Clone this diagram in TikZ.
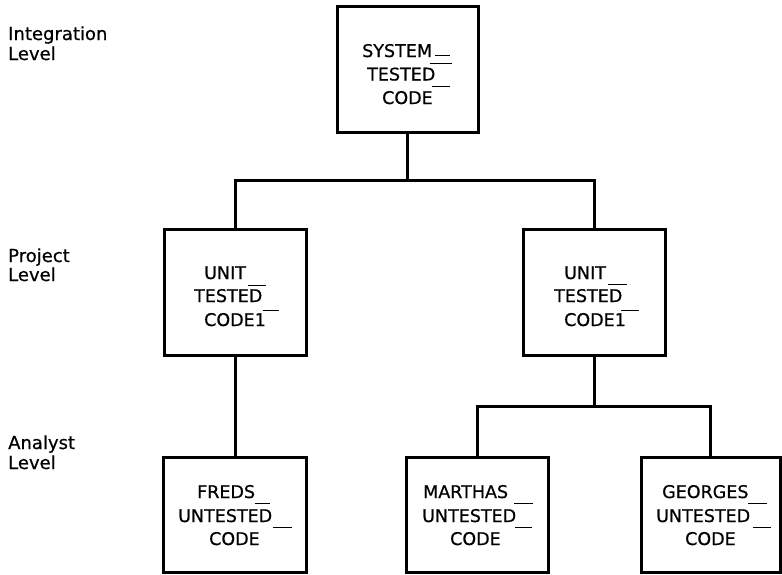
\documentclass[tikz,border=0pt]{standalone}
\usepackage{fontspec}
\setmainfont{DejaVu Sans}[FakeBold=0.6]
\newfontfamily\boxfont{DejaVu Sans}[FakeBold=0.6]
\begin{document}
\begin{tikzpicture}[x=1pt,y=-1pt,
  box/.style={draw, line width=3pt, rectangle, inner sep=0pt, outer sep=0pt},
  wire/.style={line width=3pt},
  tick/.style={line width=1pt},
  txt/.style={anchor=base west, inner sep=0pt, font=\boxfont\fontsize{17.5}{20}\selectfont},
  lvl/.style={anchor=base west, inner sep=0pt, font=\boxfont\fontsize{18}{20}\selectfont}]
\useasboundingbox (0,0) rectangle (782,574);

% level captions
\node[lvl] (l1a) at (8,40) {Integration};
\node[lvl] (l1b) at (8,60) {Level};
\node[lvl] (l2a) at (8,262) {Project};
\node[lvl] (l2b) at (8,281) {Level};
\node[lvl] (l3a) at (8,449) {Analyst};
\node[lvl] (l3b) at (8,469) {Level};

% boxes
\node[box, minimum width=141pt, minimum height=126pt] (top) at (407.5,69) {};
\node[box, minimum width=142pt, minimum height=126pt] (midL) at (235,292) {};
\node[box, minimum width=142pt, minimum height=126pt] (midR) at (594,292) {};
\node[box, minimum width=143pt, minimum height=115pt] (botF) at (235,514.5) {};
\node[box, minimum width=142pt, minimum height=115pt] (botM) at (477,514.5) {};
\node[box, minimum width=139pt, minimum height=115pt] (botG) at (710.5,514.5) {};

% connectors
\coordinate (busA) at (407.5,180);
\coordinate (busB) at (594,406);
\draw[wire] (top.south) -- (busA) -| (midL.north);
\draw[wire] (busA) -| (midR.north);
\draw[wire] (midL.south) -- (botF.north);
\draw[wire] (midR.south) -- (busB) -| (botM.north);
\draw[wire] (busB) -| (botG.north);

% top box text
\node[txt] (t1) at (362,57) {SYSTEM};
\node[txt] (t2) at (367,80.5) {TESTED};
\node[txt] (t3) at (382,104) {CODE};
\draw[tick] (435,55) -- (450,55);
\draw[tick] (430,63) -- (452,63);
\draw[tick] (432,86) -- (450,86);

% left middle box text
\node[txt] (a1) at (204,279) {UNIT};
\node[txt] (a2) at (194,302) {TESTED};
\node[txt] (a3) at (204,326) {CODE1};
\draw[tick] (248,285) -- (266,285);
\draw[tick] (263,310) -- (279,310);

% right middle box text
\node[txt] (b1) at (564,279) {UNIT};
\node[txt] (b2) at (554,302) {TESTED};
\node[txt] (b3) at (564,326) {CODE1};
\draw[tick] (608,284) -- (627,284);
\draw[tick] (621,310) -- (639,310);

% bottom box texts
\node[txt] (f1) at (197,498) {FREDS};
\node[txt] (f2) at (178,522) {UNTESTED};
\node[txt] (f3) at (209,545) {CODE};
\draw[tick] (255,503) -- (270,503);
\draw[tick] (273,527) -- (292,527);

\node[txt] (m1) at (423,498) {MARTHAS};
\node[txt] (m2) at (422,522) {UNTESTED};
\node[txt] (m3) at (450,545) {CODE};
\draw[tick] (514,503) -- (533,503);
\draw[tick] (515,527) -- (532,527);

\node[txt] (g1) at (662,498) {GEORGES};
\node[txt] (g2) at (656,522) {UNTESTED};
\node[txt] (g3) at (685,545) {CODE};
\draw[tick] (748,503) -- (767,503);
\draw[tick] (753,527) -- (771,527);
\end{tikzpicture}
\end{document}
